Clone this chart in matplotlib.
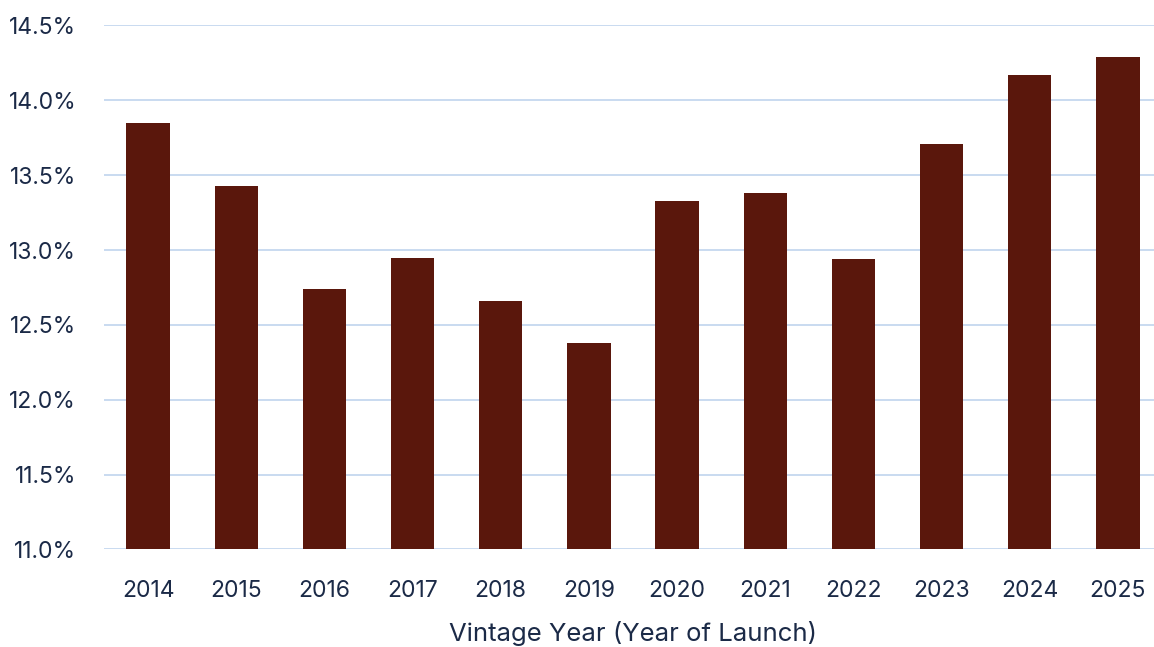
import matplotlib
matplotlib.use('Agg')
import matplotlib.pyplot as plt
from matplotlib.ticker import FuncFormatter

# returns by vintage year, in percent
years = ['2014', '2015', '2016', '2017', '2018', '2019',
         '2020', '2021', '2022', '2023', '2024', '2025']
returns = [13.85, 13.43, 12.74, 12.95, 12.66, 12.38,
           13.33, 13.38, 12.94, 13.71, 14.17, 14.29]

bar_color = '#5a170c'
text_color = '#1b2a47'
grid_color = '#c9daf0'

plt.rcParams['font.family'] = ['Inter', 'DejaVu Sans']

fig = plt.figure(figsize=(11.54, 6.47), dpi=100)
ax = fig.add_axes([104 / 1154, 0.1507, 1058 / 1154, 0.81])

x = range(len(years))
ax.bar(x, returns, width=0.49, color=bar_color, zorder=3)

ax.set_xlim(-0.5, len(years) - 0.5)
ax.set_ylim(11.0, 14.5)
ax.set_yticks([11.0 + 0.5 * i for i in range(8)])
ax.yaxis.set_major_formatter(FuncFormatter(lambda v, _: f'{v:.1f}%'))
ax.set_xticks(list(x))
ax.set_xticklabels(years)

ax.grid(axis='y', color=grid_color, linewidth=1.4, zorder=0)
ax.set_axisbelow(True)
for s in ax.spines.values():
    s.set_visible(False)

ax.tick_params(axis='both', length=0, labelsize=16.5, colors=text_color)
ax.tick_params(axis='y', pad=20)
ax.tick_params(axis='x', pad=22)

ax.set_xlabel('Vintage Year (Year of Launch)', fontsize=18.5, color=text_color, labelpad=14)

fig.savefig('out.png', dpi=100)
